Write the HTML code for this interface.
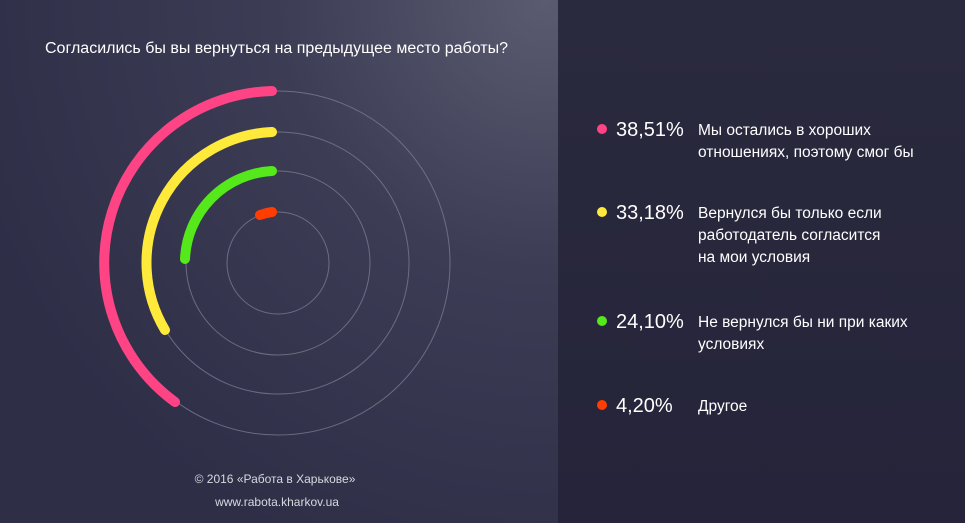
<!DOCTYPE html>
<html><head><meta charset="utf-8"><style>
html,body{margin:0;padding:0}
body{width:965px;height:523px;overflow:hidden;background:#2f2f47;font-family:"Liberation Sans",sans-serif}
</style></head><body>
<svg width="965" height="523" viewBox="0 0 965 523" xmlns="http://www.w3.org/2000/svg" style="display:block">
<defs>
<radialGradient id="lg" cx="545" cy="0" r="600" gradientUnits="userSpaceOnUse">
<stop offset="0" stop-color="#5a5a70"/>
<stop offset="0.45" stop-color="#3c3c55"/>
<stop offset="1" stop-color="#2e2e47"/>
</radialGradient>
<linearGradient id="rg" x1="0" y1="0" x2="0" y2="1">
<stop offset="0" stop-color="#2a2a3e"/>
<stop offset="1" stop-color="#25243a"/>
</linearGradient>
</defs>
<rect x="0" y="0" width="558" height="523" fill="url(#lg)"/>
<rect x="558" y="0" width="407" height="523" fill="url(#rg)"/>
<text x="45" y="53" fill="#fff" font-size="15.5" textLength="463" lengthAdjust="spacingAndGlyphs">Согласились бы вы вернуться на предыдущее место работы?</text>
<g fill="none" stroke="#7a7a8e" stroke-width="1" opacity="0.8">
<circle cx="278" cy="263" r="172"/>
<circle cx="278" cy="263" r="131"/>
<circle cx="278" cy="263" r="92"/>
<circle cx="278" cy="263" r="51"/>
</g>
<g fill="none" stroke-linecap="round" stroke-width="10">
<path d="M272 91 A172 172 0 0 0 175 402" stroke="#ff4485"/>
<path d="M272 132 A131 131 0 0 0 165 330" stroke="#ffea3c"/>
<path d="M272 171 A92 92 0 0 0 185 259" stroke="#55e81a"/>
<path d="M272 212 A51 51 0 0 0 260 215" stroke="#ff3d00"/>
</g>
<g fill="#fff">
<circle cx="602" cy="129" r="5" fill="#ff4485"/>
<text x="616" y="136" font-size="20">38,51%</text>
<text x="698" y="135" font-size="15.5">Мы остались в хороших</text>
<text x="698" y="157" font-size="15.5">отношениях, поэтому смог бы</text>
<circle cx="602" cy="212" r="5" fill="#ffea3c"/>
<text x="616" y="219" font-size="20">33,18%</text>
<text x="698" y="218" font-size="15.5">Вернулся бы только если</text>
<text x="698" y="240" font-size="15.5">работодатель согласится</text>
<text x="698" y="262" font-size="15.5">на мои условия</text>
<circle cx="602" cy="321" r="5" fill="#55e81a"/>
<text x="616" y="328" font-size="20">24,10%</text>
<text x="698" y="327" font-size="15.5">Не вернулся бы ни при каких</text>
<text x="698" y="349" font-size="15.5">условиях</text>
<circle cx="602" cy="405" r="5" fill="#ff3d00"/>
<text x="616" y="412" font-size="20">4,20%</text>
<text x="698" y="411" font-size="15.5">Другое</text>
</g>
<g fill="#d8d8e0" font-size="12" text-anchor="middle">
<text x="275" y="483">© 2016 «Работа в Харькове»</text>
<text x="277" y="506">www.rabota.kharkov.ua</text>
</g>
</svg>
</body></html>
